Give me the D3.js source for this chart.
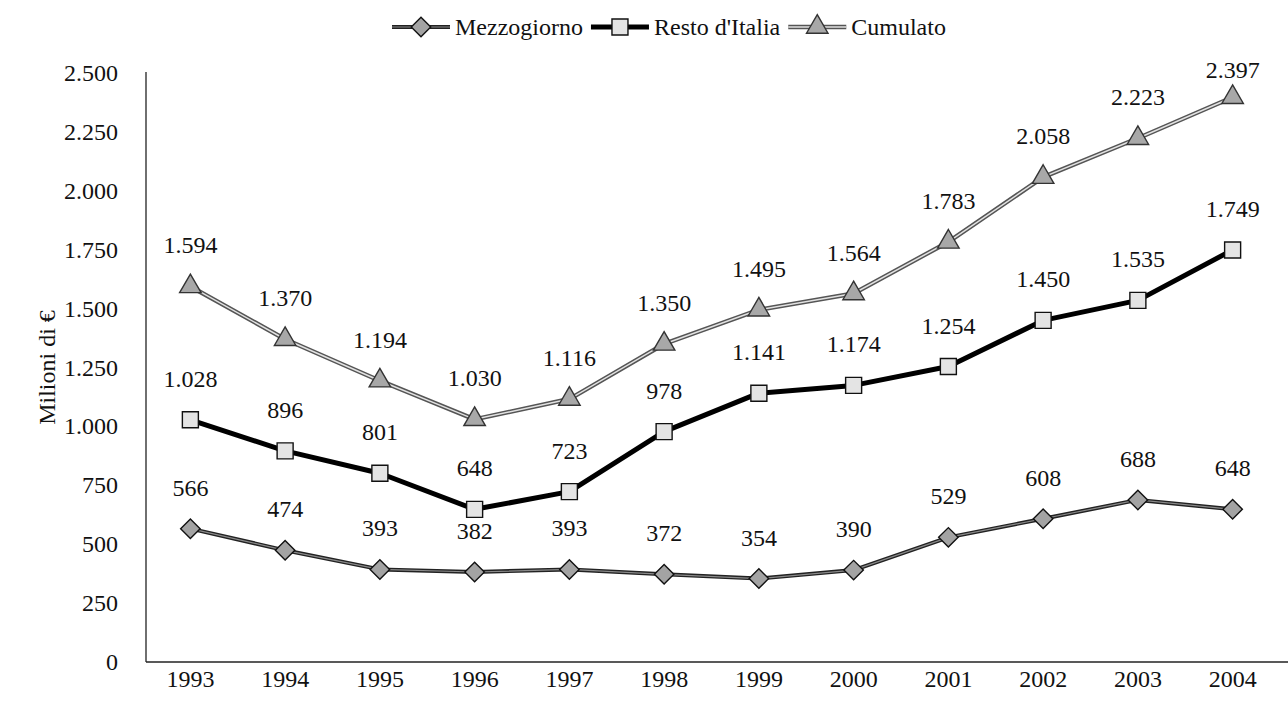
<!DOCTYPE html>
<html>
<head>
<meta charset="utf-8">
<script src="https://cdn.jsdelivr.net/npm/d3@7"></script>
<style>
  body { margin: 0; background: #fff; }
  svg text { font-family: "Liberation Serif", "Tinos", "Times New Roman", "DejaVu Serif", serif; fill: #111; }
</style>
</head>
<body>
<svg id="chart" width="1288" height="720" font-family="Liberation Serif, DejaVu Serif, serif"></svg>
<script>
var years = ["1993","1994","1995","1996","1997","1998","1999","2000","2001","2002","2003","2004"];
var mezzogiorno = [566, 474, 393, 382, 393, 372, 354, 390, 529, 608, 688, 648];
var restoItalia = [1028, 896, 801, 648, 723, 978, 1141, 1174, 1254, 1450, 1535, 1749];
var cumulato = [1594, 1370, 1194, 1030, 1116, 1350, 1495, 1564, 1783, 2058, 2223, 2397];
var yTicks = [0, 250, 500, 750, 1000, 1250, 1500, 1750, 2000, 2250, 2500];
var seriesNames = ["Mezzogiorno", "Resto d'Italia", "Cumulato"];

var svg = d3.select("#chart");
var fontSize = 24;
var serif = "'Liberation Serif', 'DejaVu Serif', serif";

var x = d3.scalePoint().domain(years).range([143, 1280]).padding(0.5);
var y = d3.scaleLinear().domain([0, 2500]).range([662, 73]);

// dot as thousands separator
var fmt = d3.formatLocale({decimal: ",", thousands: ".", grouping: [3], currency: ["", "€"]}).format(",d");

var series = [
  {name: seriesNames[0], values: mezzogiorno, symbol: d3.symbolSquare, size: 190, rotate: 45,
   fill: "#a3a3a3", stroke: "#111", outer: {c: "#222", w: 4}, inner: {c: "#8a8a8a", w: 1.2}},
  {name: seriesNames[1], values: restoItalia, symbol: d3.symbolSquare, size: 256, rotate: 0,
   fill: "#e4e4e4", stroke: "#111", outer: {c: "#000", w: 5}, inner: null},
  {name: seriesNames[2], values: cumulato, symbol: d3.symbolTriangle, size: 200, rotate: 0,
   fill: "#a8a8a8", stroke: "#333", outer: {c: "#555", w: 4.5}, inner: {c: "#e2e2e2", w: 1.5}}
];

function label(sel) {
  return sel.style("font-family", serif).style("font-size", fontSize + "px");
}

// axes
svg.append("line")
  .attr("x1", 146).attr("x2", 146)
  .attr("y1", y(2500) - 1).attr("y2", y(0))
  .attr("stroke", "#222").attr("stroke-width", 1.3);
svg.append("line")
  .attr("x1", 146).attr("x2", 1288)
  .attr("y1", y(0)).attr("y2", y(0))
  .attr("stroke", "#222").attr("stroke-width", 1.3);

svg.append("g").selectAll("text")
  .data(yTicks)
  .enter().append("text")
  .attr("x", 118)
  .attr("y", function(d) { return y(d); })
  .attr("text-anchor", "end")
  .attr("dominant-baseline", "central")
  .call(label)
  .text(function(d) { return fmt(d); });

svg.append("g").selectAll("text")
  .data(years)
  .enter().append("text")
  .attr("x", function(d) { return x(d); })
  .attr("y", 679)
  .attr("text-anchor", "middle")
  .attr("dominant-baseline", "central")
  .call(label)
  .text(function(d) { return d; });

svg.append("text")
  .attr("transform", "translate(47," + y(1250) + ") rotate(-90)")
  .attr("text-anchor", "middle")
  .attr("dominant-baseline", "central")
  .call(label)
  .text("Milioni di €");

var line = d3.line()
  .x(function(d, i) { return x(years[i]); })
  .y(function(d) { return y(d); });

function drawMarker(g, s, px, py) {
  g.append("path")
    .attr("d", d3.symbol().type(s.symbol).size(s.size)())
    .attr("transform", "translate(" + px + "," + py + ") rotate(" + s.rotate + ")")
    .attr("fill", s.fill)
    .attr("stroke", s.stroke)
    .attr("stroke-width", 1.4);
}

series.forEach(function(s) {
  var g = svg.append("g").attr("class", "series");
  g.append("path")
    .datum(s.values)
    .attr("d", line)
    .attr("fill", "none")
    .attr("stroke", s.outer.c)
    .attr("stroke-width", s.outer.w)
    .attr("stroke-linejoin", "round");
  if (s.inner) {
    g.append("path")
      .datum(s.values)
      .attr("d", line)
      .attr("fill", "none")
      .attr("stroke", s.inner.c)
      .attr("stroke-width", s.inner.w);
  }
  s.values.forEach(function(v, i) {
    drawMarker(g, s, x(years[i]), y(v));
  });
  g.selectAll("text.lbl")
    .data(s.values)
    .enter().append("text")
    .attr("class", "lbl")
    .attr("x", function(d, i) { return x(years[i]); })
    .attr("y", function(d) { return Math.max(y(d) - 41, 70); })
    .attr("text-anchor", "middle")
    .attr("dominant-baseline", "central")
    .call(label)
    .text(function(d) { return fmt(d); });
});

// legend
var legend = svg.append("g");
var lx = 392, ly = 27;
series.forEach(function(s) {
  legend.append("line")
    .attr("x1", lx).attr("x2", lx + 58)
    .attr("y1", ly).attr("y2", ly)
    .attr("stroke", s.outer.c).attr("stroke-width", s.outer.w);
  if (s.inner) {
    legend.append("line")
      .attr("x1", lx).attr("x2", lx + 58)
      .attr("y1", ly).attr("y2", ly)
      .attr("stroke", s.inner.c).attr("stroke-width", s.inner.w);
  }
  drawMarker(legend, s, lx + 29, ly);
  var t = legend.append("text")
    .attr("x", lx + 63)
    .attr("y", ly)
    .attr("dominant-baseline", "central")
    .call(label)
    .text(s.name);
  lx += 63 + t.node().getComputedTextLength() + 8;
});
</script>
</body>
</html>
